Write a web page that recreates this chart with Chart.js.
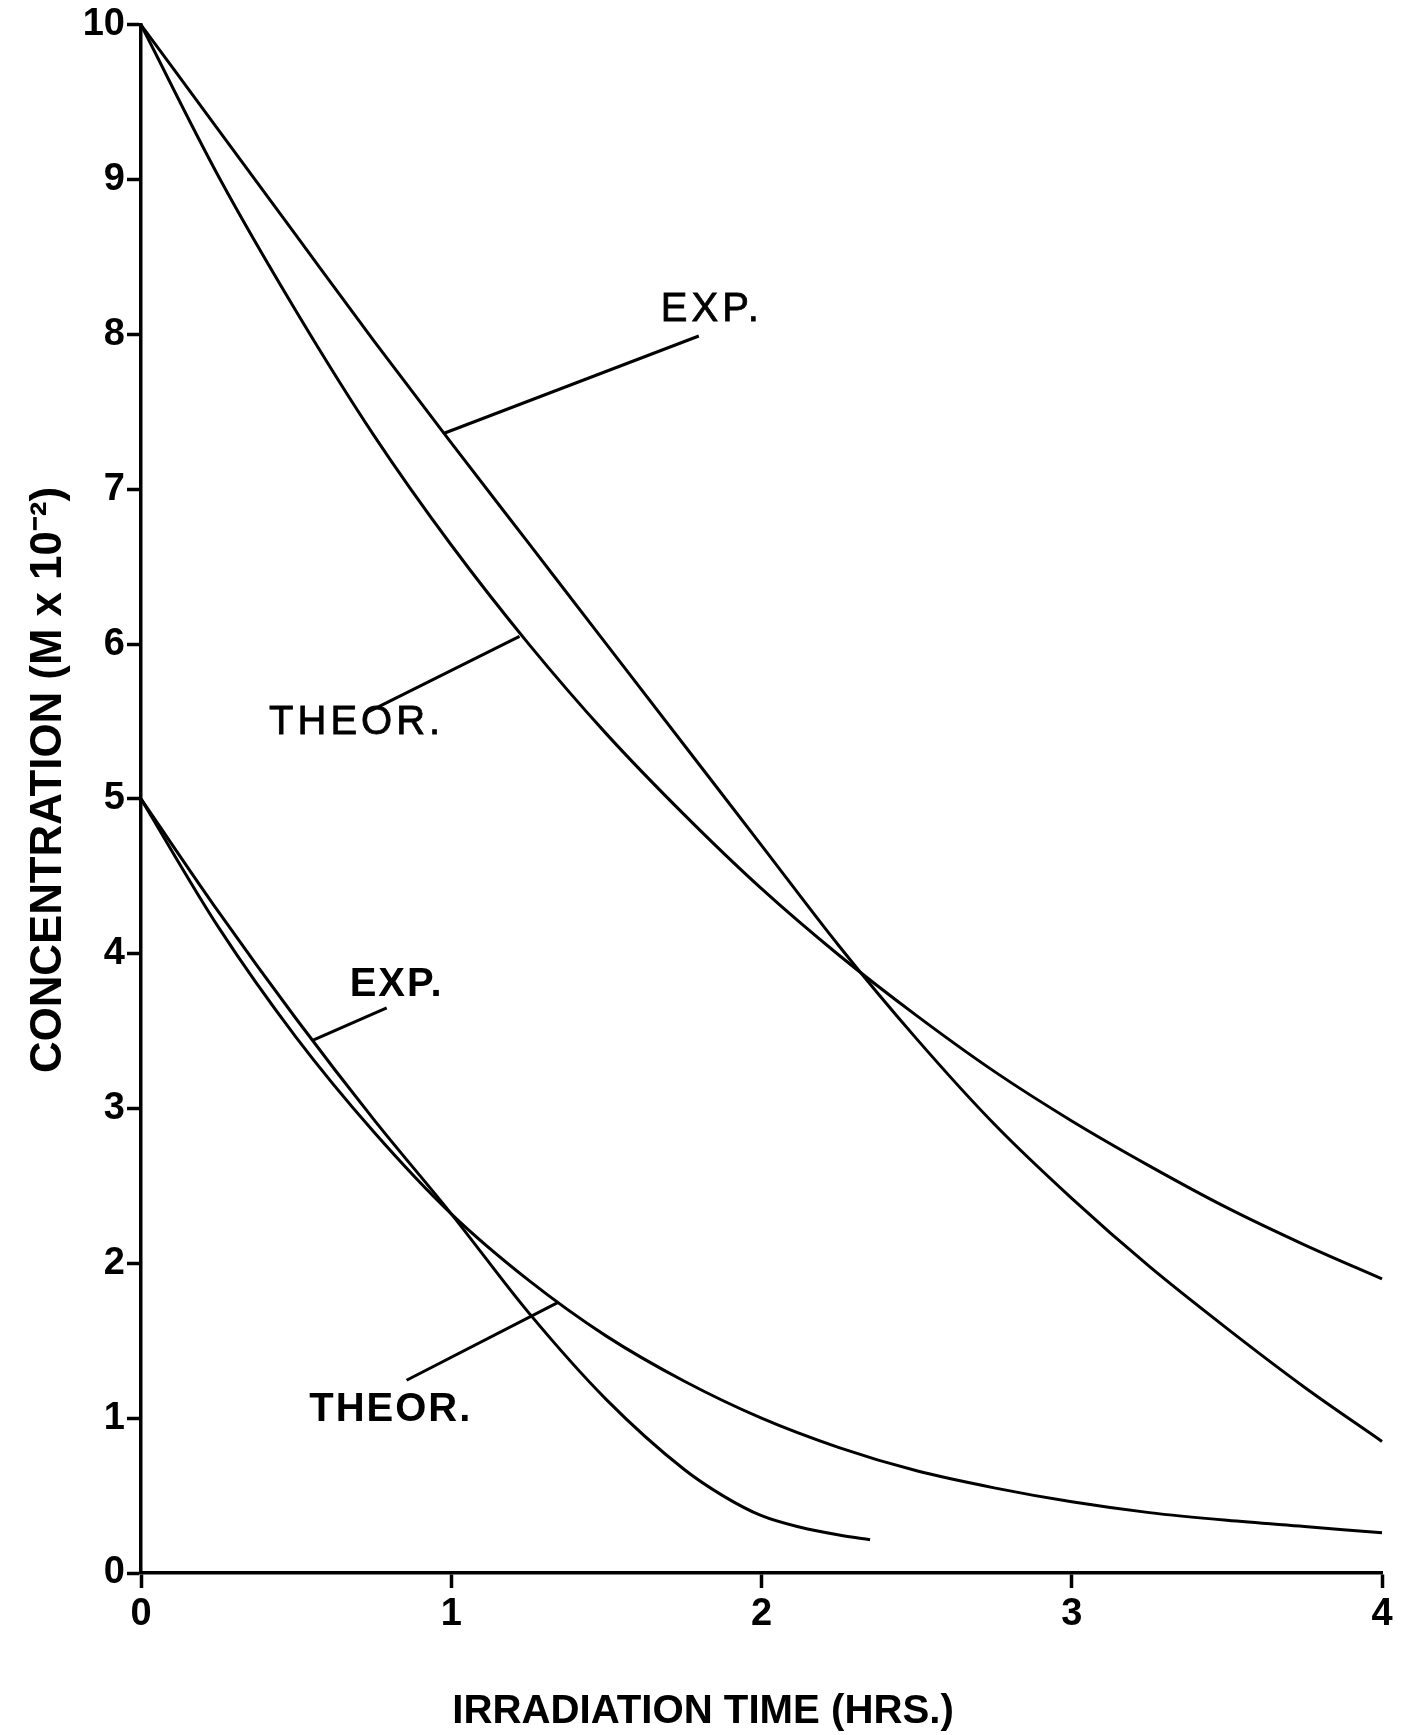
<!DOCTYPE html>
<html>
<head>
<meta charset="utf-8">
<script src="https://cdn.jsdelivr.net/npm/chart.js@4.4.0/dist/chart.umd.min.js"></script>
<style>
  html, body { margin: 0; padding: 0; background: #fff; }
  #chartContainer { width: 1405px; height: 1735px; }
</style>
</head>
<body>
<div id="chartContainer"><canvas id="myChart" width="1405" height="1735"></canvas></div>
<script>
// irradiation time (hrs) and concentration (M x 10^-2)
const hours = [0, 0.25, 0.5, 0.75, 1, 1.25, 1.5, 1.75, 2, 2.25, 2.5, 2.75, 3, 3.25, 3.5, 3.75, 4];
const expHigh = [10, 9.32, 8.64, 7.96, 7.3, 6.65, 6.0, 5.35, 4.7, 4.05, 3.45, 2.9, 2.42, 1.98, 1.58, 1.2, 0.85];
const theorHigh = [10, 9.02, 8.15, 7.35, 6.64, 6.0, 5.42, 4.9, 4.42, 3.99, 3.6, 3.24, 2.92, 2.63, 2.36, 2.12, 1.9];

const lowExpHours = [0, 0.25, 0.5, 0.75, 1, 1.25, 1.5, 1.75, 1.875, 2, 2.125, 2.25, 2.35];
const expLow = [5, 4.27, 3.58, 2.93, 2.32, 1.68, 1.12, 0.67, 0.5, 0.37, 0.295, 0.245, 0.215];
const theorLow = [5, 4.17, 3.46, 2.85, 2.32, 1.89, 1.53, 1.24, 1.0, 0.81, 0.66, 0.55, 0.46, 0.39, 0.34, 0.3, 0.26];

// annotation labels (data coordinates)
const labelTexts = ['EXP.', 'THEOR.', 'EXP.', 'THEOR.'];
const labelX = [1.84, 0.695, 0.824, 0.805];
const labelY = [8.16, 5.49, 3.80, 1.05];
const labelBold = [false, false, true, true];

// leader lines from label to curve
const leaderX1 = [0.975, 1.22, 0.553, 1.346];
const leaderY1 = [7.36, 6.05, 3.44, 1.75];
const leaderX2 = [1.798, 0.731, 0.792, 0.856];
const leaderY2 = [7.99, 5.56, 3.65, 1.245];

const xTicks = [0, 1, 2, 3, 4];
const yTicks = [0, 1, 2, 3, 4, 5, 6, 7, 8, 9, 10];

const xTitle = 'IRRADIATION TIME (HRS.)';
const yTitle = 'CONCENTRATION (M x 10\u207B\u00B2)';

const narrow = '"Liberation Sans Narrow", "Liberation Sans", Arial, sans-serif';
const plain = '"Liberation Sans", Arial, sans-serif';

let myChart = null;

function toPoints(xs, ys) {
    return ys.map((y, i) => ({ x: xs[i], y: y }));
}

function curve(label, xs, ys) {
    return {
        label: label,
        data: toPoints(xs, ys),
        borderColor: '#000',
        borderWidth: 3,
        fill: false,
        pointRadius: 0,
        cubicInterpolationMode: 'monotone',
        clip: false
    };
}

function buildDatasets() {
    let dataset = [
        curve('EXP. (10)', hours, expHigh),
        curve('THEOR. (10)', hours, theorHigh),
        curve('EXP. (5)', lowExpHours, expLow),
        curve('THEOR. (5)', hours, theorLow)
    ];
    for (let i = 0; i < leaderX1.length; i++) {
        dataset.push({
            label: 'leader ' + i,
            data: [{ x: leaderX1[i], y: leaderY1[i] }, { x: leaderX2[i], y: leaderY2[i] }],
            borderColor: '#000',
            borderWidth: 3,
            pointRadius: 0,
            fill: false,
            tension: 0,
            clip: false
        });
    }
    return dataset;
}

// set a font whose rendered width matches the wanted width
function fitFont(ctx, text, weight, family, width) {
    ctx.font = weight + ' 40px ' + family;
    const size = 40 * width / ctx.measureText(text).width;
    ctx.font = weight + ' ' + size.toFixed(1) + 'px ' + family;
}

const labelPlugin = {
    id: 'curveLabels',
    afterDatasetsDraw(chart) {
        const ctx = chart.ctx;
        const xs = chart.scales.x;
        const ys = chart.scales.y;
        ctx.save();
        ctx.fillStyle = '#000';
        ctx.strokeStyle = '#000';
        ctx.textAlign = 'center';
        ctx.textBaseline = 'middle';
        labelTexts.forEach((t, i) => {
            ctx.font = (labelBold[i] ? 'bold ' : '') + '40px ' + plain;
            ctx.letterSpacing = labelBold[i] ? '2px' : '4px';
            const px = xs.getPixelForValue(labelX[i]);
            const py = ys.getPixelForValue(labelY[i]);
            ctx.fillText(t, px, py);
            if (!labelBold[i]) {
                ctx.lineWidth = 0.8;
                ctx.strokeText(t, px, py);
            }
        });
        ctx.letterSpacing = '0px';

        // axis titles
        fitFont(ctx, xTitle, 'bold', narrow, 502);
        ctx.fillText(xTitle, 703, 1712);

        ctx.translate(49, 780);
        ctx.rotate(-Math.PI / 2);
        fitFont(ctx, yTitle, 'bold', narrow, 586);
        ctx.fillText(yTitle, 0, 0);
        ctx.restore();
    }
};

function createChart() {
    if (myChart !== null) {
        myChart.destroy();
    }
    const ctx = document.getElementById('myChart').getContext('2d');
    myChart = new Chart(ctx, {
        type: 'line',
        data: { datasets: buildDatasets() },
        plugins: [labelPlugin],
        options: {
            responsive: false,
            animation: false,
            maintainAspectRatio: false,
            layout: { padding: { left: 0, top: 22, right: 23, bottom: 0 } },
            plugins: {
                legend: { display: false },
                tooltip: { enabled: false }
            },
            scales: {
                x: {
                    type: 'linear',
                    min: 0,
                    max: 4,
                    afterFit(scale) { scale.height = 162; },
                    afterBuildTicks(scale) { scale.ticks = xTicks.map(v => ({ value: v })); },
                    border: { display: true, color: '#000', width: 3.5 },
                    grid: {
                        drawOnChartArea: false,
                        drawTicks: true,
                        tickLength: 15,
                        tickWidth: 3.5,
                        tickColor: '#000'
                    },
                    ticks: {
                        color: '#000',
                        padding: 4,
                        maxRotation: 0,
                        font: { family: narrow, size: 38, weight: 'bold' }
                    },
                    title: { display: false }
                },
                y: {
                    type: 'linear',
                    min: 0,
                    max: 10,
                    afterFit(scale) { scale.width = 141; },
                    afterBuildTicks(scale) { scale.ticks = yTicks.map(v => ({ value: v })); },
                    border: { display: true, color: '#000', width: 3.5 },
                    grid: {
                        drawOnChartArea: false,
                        drawTicks: true,
                        tickLength: 14,
                        tickWidth: 3.5,
                        tickColor: '#000'
                    },
                    ticks: {
                        color: '#000',
                        padding: 2,
                        font: { family: narrow, size: 38, weight: 'bold' }
                    },
                    title: { display: false }
                }
            }
        }
    });
}

createChart();
</script>
</body>
</html>
